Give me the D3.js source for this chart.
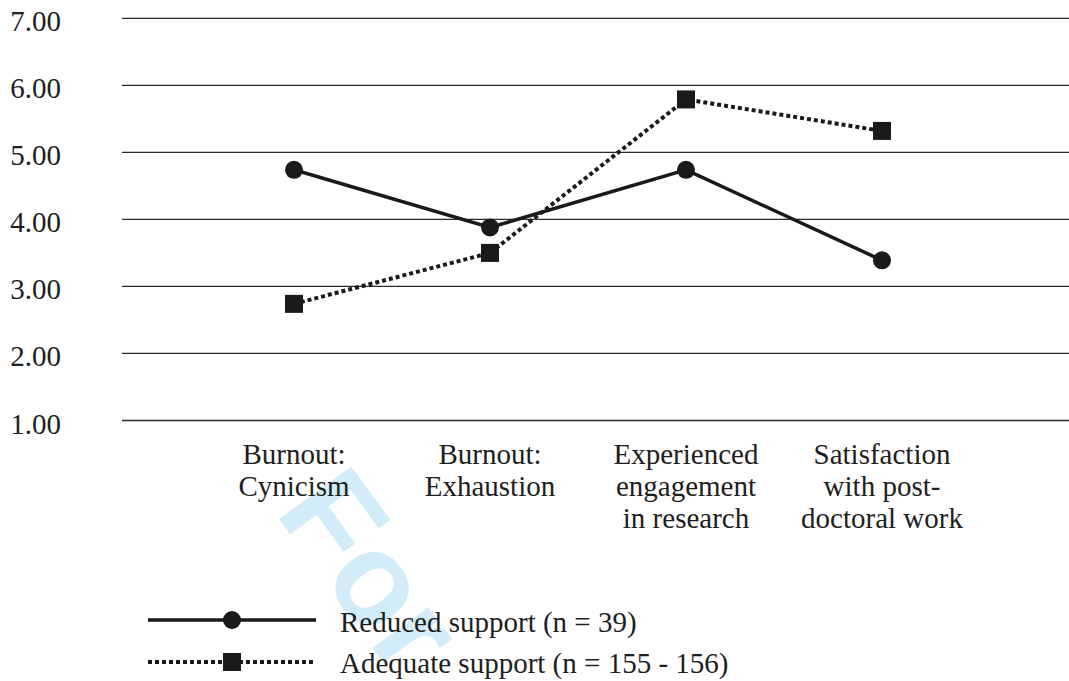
<!DOCTYPE html>
<html>
<head>
<meta charset="utf-8">
<script src="https://cdn.jsdelivr.net/npm/d3@7"></script>
<style>
	html, body { margin: 0; padding: 0; background: #fff; }
	svg { display: block; }
</style>
</head>
<body>
<svg id="chart"></svg>
<script>
// chart values
const categories = [
	"Burnout:\nCynicism",
	"Burnout:\nExhaustion",
	"Experienced\nengagement\nin research",
	"Satisfaction\nwith post-\ndoctoral work"
];
const reducedValues = [4.74, 3.88, 4.74, 3.39];
const adequateValues = [2.74, 3.50, 5.79, 5.32];
const yTicks = [1, 2, 3, 4, 5, 6, 7];
const legendLabels = ["Reduced support (n = 39)", "Adequate support (n = 155 - 156)"];

const w = 1069;
const h = 681;
const font = "'Liberation Serif', 'Times New Roman', serif";

let svg = d3.select("#chart")
	.attr("width", w)
	.attr("height", h);

// watermark sits behind everything
svg.append("text")
	.text("For")
	.attr("transform", "translate(274,512) rotate(54)")
	.attr("font-family", "'Liberation Sans', Arial, sans-serif")
	.attr("font-weight", "bold")
	.attr("font-size", "130px")
	.attr("fill", "#d2ecfa");

let x = d3.scalePoint()
	.domain(categories)
	.range([294, 882]);

let y = d3.scaleLinear()
	.domain([1, 7])
	.range([420.5, 18.3]);

// gridlines
svg.append("g")
	.selectAll("line")
	.data(yTicks)
	.enter()
	.append("line")
	.attr("x1", 122)
	.attr("x2", w)
	.attr("y1", d => y(d))
	.attr("y2", d => y(d))
	.attr("stroke", "#2a2a2a")
	.attr("stroke-width", 1.3);

// y tick labels
svg.append("g")
	.selectAll("text")
	.data(yTicks)
	.enter()
	.append("text")
	.text(d => d3.format(".2f")(d))
	.attr("x", 61)
	.attr("y", d => y(d) + 13)
	.attr("text-anchor", "end")
	.attr("font-family", font)
	.attr("font-size", "29px")
	.attr("fill", "#1e1e1e");

// category labels
let catLabels = svg.append("g")
	.selectAll("text")
	.data(categories)
	.enter()
	.append("text")
	.attr("text-anchor", "middle")
	.attr("font-family", font)
	.attr("font-size", "29px")
	.attr("fill", "#1e1e1e");

catLabels.selectAll("tspan")
	.data(d => d.split("\n").map(t => ({ t: t, c: d })))
	.enter()
	.append("tspan")
	.text(d => d.t)
	.attr("x", d => x(d.c))
	.attr("y", (d, i) => 464 + i * 32);

let lineFun = d3.line()
	.x((d, i) => x(categories[i]))
	.y(d => y(d));

// reduced support: solid line, circles
svg.append("path")
	.attr("d", lineFun(reducedValues))
	.attr("fill", "none")
	.attr("stroke", "#1a1a1a")
	.attr("stroke-width", 3.5);

svg.append("g")
	.selectAll("circle")
	.data(reducedValues)
	.enter()
	.append("circle")
	.attr("cx", (d, i) => x(categories[i]))
	.attr("cy", d => y(d))
	.attr("r", 9)
	.attr("fill", "#1a1a1a");

// adequate support: dotted line, squares
svg.append("path")
	.attr("d", lineFun(adequateValues))
	.attr("fill", "none")
	.attr("stroke", "#1a1a1a")
	.attr("stroke-width", 4)
	.attr("stroke-dasharray", "4,3");

svg.append("g")
	.selectAll("rect")
	.data(adequateValues)
	.enter()
	.append("rect")
	.attr("x", (d, i) => x(categories[i]) - 9)
	.attr("y", d => y(d) - 9)
	.attr("width", 18)
	.attr("height", 18)
	.attr("fill", "#1a1a1a");

// legend
let legend = svg.append("g");

legend.append("line")
	.attr("x1", 148).attr("x2", 316)
	.attr("y1", 620).attr("y2", 620)
	.attr("stroke", "#1a1a1a")
	.attr("stroke-width", 3.5);

legend.append("circle")
	.attr("cx", 232).attr("cy", 620)
	.attr("r", 9)
	.attr("fill", "#1a1a1a");

legend.append("line")
	.attr("x1", 148).attr("x2", 316)
	.attr("y1", 662).attr("y2", 662)
	.attr("stroke", "#1a1a1a")
	.attr("stroke-width", 4)
	.attr("stroke-dasharray", "4,3");

legend.append("rect")
	.attr("x", 223).attr("y", 653)
	.attr("width", 18).attr("height", 18)
	.attr("fill", "#1a1a1a");

legend.selectAll("text")
	.data(legendLabels)
	.enter()
	.append("text")
	.text(d => d)
	.attr("x", 340)
	.attr("y", (d, i) => 632 + i * 41)
	.attr("font-family", font)
	.attr("font-size", "29px")
	.attr("fill", "#1e1e1e");
</script>
</body>
</html>
